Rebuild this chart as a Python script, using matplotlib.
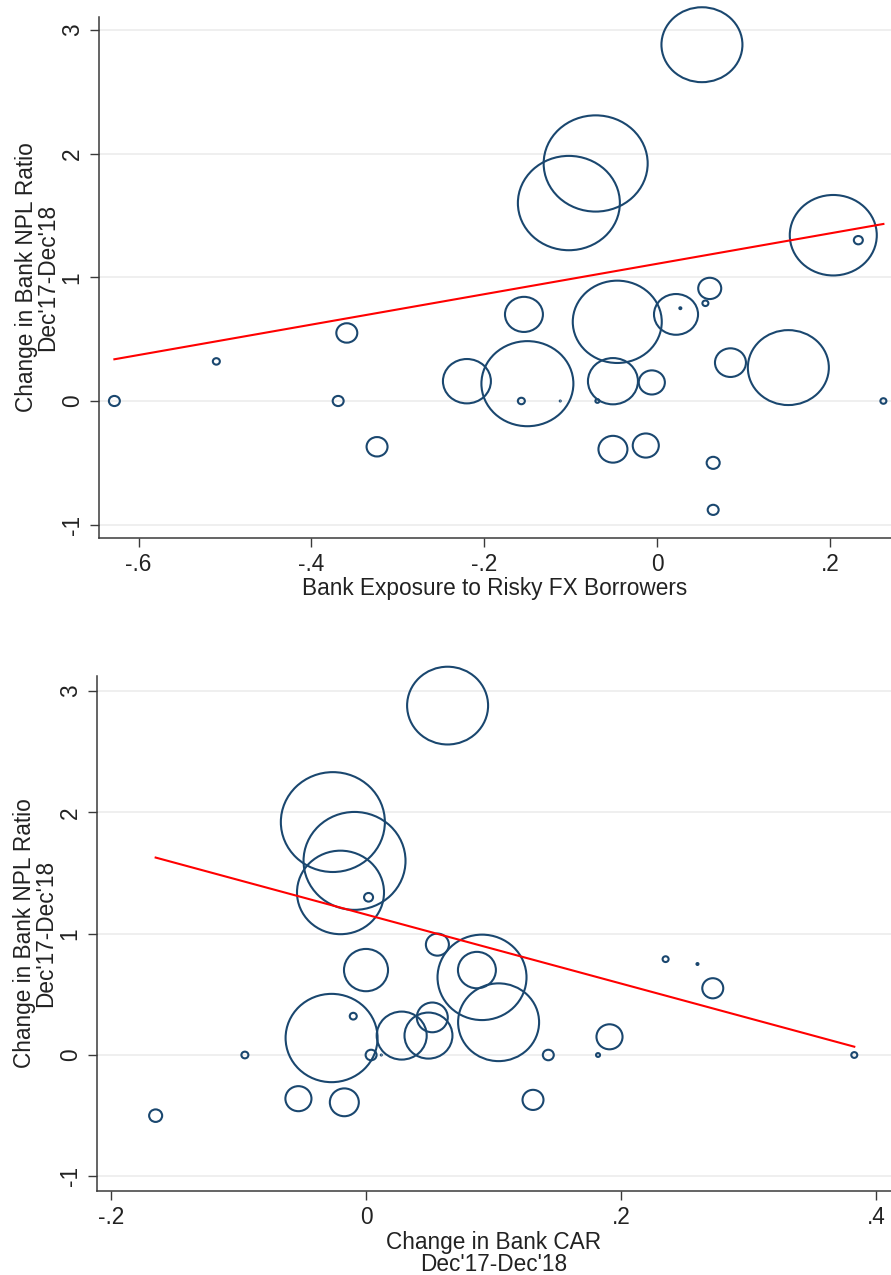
import numpy as np
import matplotlib.pyplot as plt
from matplotlib.path import Path

plt.rcParams['font.family'] = ['Liberation Sans', 'DejaVu Sans']

# one entry per bank (same order in both panels)
npl_change = [2.88, 1.92, 1.60, 1.34, 1.30, 0.70, 0.64, 0.70, 0.75, 0.91,
              0.79, 0.16, 0.14, 0.00, 0.00, 0.00, 0.16, 0.15, 0.31, 0.27,
              0.00, -0.39, -0.36, -0.50, -0.88, 0.00, 0.32, 0.55, 0.00, -0.37]
fx_exposure = [0.052, -0.071, -0.102, 0.204, 0.233, -0.154, -0.046, 0.022, 0.027, 0.061,
               0.056, -0.220, -0.150, -0.157, -0.112, -0.069, -0.051, -0.006, 0.085, 0.152,
               0.262, -0.051, -0.013, 0.065, 0.065, -0.628, -0.510, -0.359, -0.369, -0.324]
car_change = [0.064, -0.026, -0.009, -0.020, 0.002, 0.087, 0.091, 0.000, 0.260, 0.056,
              0.235, 0.049, -0.027, -0.095, 0.012, 0.182, 0.028, 0.191, 0.052, 0.104,
              0.383, -0.017, -0.053, -0.165, np.nan, 0.004, -0.010, 0.272, 0.143, 0.131]
# bubble weights (bank size)
bank_weight = [65.6, 108.2, 104.0, 75.7, 0.81, 14.4, 79.2, 19.4, 0.04, 5.3,
               0.36, 23.0, 84.6, 0.49, 0.01, 0.16, 25.0, 6.8, 9.6, 65.6,
               0.36, 8.4, 6.8, 1.7, 1.2, 1.2, 0.49, 4.4, 1.2, 4.4]

# linear fits (intercept, slope)
fx_fit = (1.109, 1.229)
car_fit = (1.158, -2.845)

y_ticks = [-1, 0, 1, 2, 3]
y_ticklabels = ['-1', '0', '1', '2', '3']
fx_ticks = [-0.6, -0.4, -0.2, 0, 0.2]
fx_ticklabels = ['-.6', '-.4', '-.2', '0', '.2']
car_ticks = [-0.2, 0, 0.2, 0.4]
car_ticklabels = ['-.2', '0', '.2', '.4']

NAVY = '#1a476f'
AXIS = '#3a3a3a'
TEXT = '#222222'
FS = 16.3
YTITLE = "Change in Bank NPL Ratio\nDec'17-Dec'18"


def ellipse_marker(aspect):
    circ = Path.unit_circle()
    return Path(circ.vertices * np.array([1.0, aspect]), circ.codes)


def draw_panel(ax, xvals, fit, xlim, ylim, xticks, xticklabels, xlabel, aspect, xlabel_y):
    x = np.array(xvals, dtype=float)
    y = np.array(npl_change, dtype=float)
    w = np.array(bank_weight, dtype=float)
    ok = ~np.isnan(x)

    ax.scatter(x[ok], y[ok], s=w[ok] * 51.84, marker=ellipse_marker(aspect),
               facecolors='none', edgecolors=NAVY, linewidths=1.5, zorder=3,
               clip_on=False)
    xs = np.array([x[ok].min(), x[ok].max()])
    ax.plot(xs, fit[0] + fit[1] * xs, color='#ff0000', lw=1.5, zorder=4)

    ax.set_xlim(*xlim)
    ax.set_ylim(*ylim)
    ax.set_xticks(xticks)
    ax.set_xticklabels(xticklabels)
    ax.set_yticks(y_ticks)
    ax.set_yticklabels(y_ticklabels, rotation=90, va='center')
    ax.yaxis.grid(True, color='#ececec', lw=1.2)
    ax.set_axisbelow(True)

    for side in ['top', 'right']:
        ax.spines[side].set_visible(False)
    for side in ['left', 'bottom']:
        ax.spines[side].set_color(AXIS)
        ax.spines[side].set_linewidth(1.1)
    ax.tick_params(length=6.5, width=1.0, color=AXIS, labelsize=FS,
                   labelcolor=TEXT, pad=4.5)

    ax.set_ylabel(YTITLE, fontsize=FS, color=TEXT, linespacing=0.92)
    ax.yaxis.set_label_coords(-0.05, 0.5)
    ax.set_xlabel(xlabel, fontsize=FS, color=TEXT, linespacing=0.95)
    ax.xaxis.set_label_coords(0.5, xlabel_y)


fig = plt.figure(figsize=(8.91, 12.75), dpi=100, facecolor='white')
ax1 = fig.add_axes([99 / 891, 1 - 538 / 1275, 1 - 99 / 891, (538 - 17) / 1275])
ax2 = fig.add_axes([97 / 891, 1 - 1191 / 1275, 1 - 97 / 891, (1191 - 676) / 1275])

draw_panel(ax1, fx_exposure, fx_fit, (-0.6458, 0.2708), (-1.1075, 3.104),
           fx_ticks, fx_ticklabels, 'Bank Exposure to Risky FX Borrowers', 0.925, -0.074)
draw_panel(ax2, car_change, car_fit, (-0.211, 0.4118), (-1.121, 3.124),
           car_ticks, car_ticklabels, "Change in Bank CAR\nDec'17-Dec'18", 0.96, -0.077)

fig.savefig('out.png', dpi=100, facecolor='white')
